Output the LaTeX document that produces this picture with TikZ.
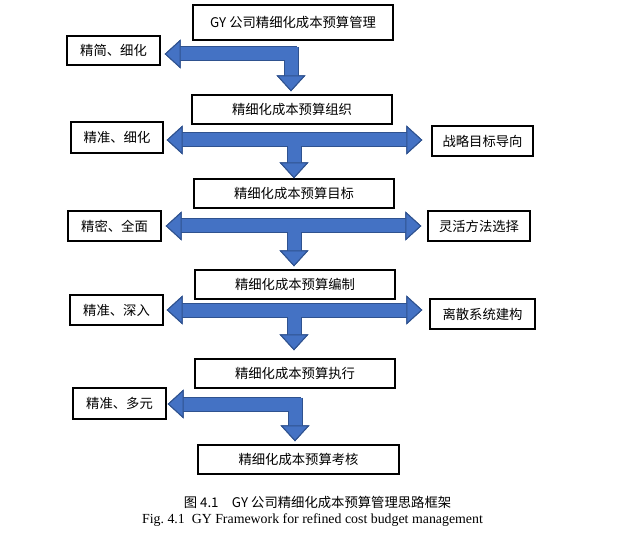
\documentclass[tikz,border=0pt]{standalone}
\usepackage{fontspec}
\setmainfont{Liberation Serif}
\newfontfamily\cjk{Noto Sans CJK SC}
\usetikzlibrary{arrows.meta}

\definecolor{barblue}{RGB}{68,114,196}
\definecolor{bardark}{RGB}{47,82,143}

\tikzset{every picture/.style={line width=0.75pt}}
\tikzset{
  box/.style={draw, line width=1pt, inner sep=0pt, minimum height=21.75pt, font=\cjk\fontsize{10}{12}\selectfont},
  rim/.style={draw=bardark, line width=11.25pt},
  core/.style={draw=barblue, line width=9.75pt},
  Bhead/.tip={Triangle[width=21.75pt, length=12pt, line width=0.75pt, color=bardark, fill=barblue]},
}

\begin{document}
\begin{tikzpicture}[x=0.75pt,y=0.75pt,yscale=-1,xscale=1]
\useasboundingbox (0,0) rectangle (635,545);

% Main steps
\node[box, minimum width=150pt, minimum height=26.25pt] (b1) at (293,22.5) {GY 公司精细化成本预算管理};
\node[box, minimum width=150pt] (b2) at (292,109.5) {精细化成本预算组织};
\node[box, minimum width=150pt] (b3) at (294,193.5) {精细化成本预算目标};
\node[box, minimum width=150pt] (b4) at (295,284.5) {精细化成本预算编制};
\node[box, minimum width=150pt] (b5) at (295,373.5) {精细化成本预算执行};
\node[box, minimum width=150.75pt] (b6) at (298.5,459.5) {精细化成本预算考核};

% Left side boxes
\node[box, minimum width=69.75pt] (l1) at (113.5,50.5) {精简、细化};
\node[box, minimum width=69pt, minimum height=23.25pt] (l2) at (117,137.5) {精准、细化};
\node[box, minimum width=69.75pt, minimum height=22.5pt] (l3) at (114.5,226) {精密、全面};
\node[box, minimum width=69.75pt, minimum height=22.5pt] (l4) at (116.5,310) {精准、深入};
\node[box, minimum width=69.75pt, minimum height=23.25pt] (l5) at (119.5,403.5) {精准、多元};

% Right side boxes
\node[box, minimum width=75.75pt, minimum height=22.5pt] (r2) at (482.5,141) {战略目标导向};
\node[box, minimum width=76.5pt, minimum height=22.5pt] (r3) at (479,226) {灵活方法选择};
\node[box, minimum width=78.75pt, minimum height=22.5pt] (r4) at (482.5,314) {离散系统建构};

% Arrow junctions
\coordinate (c1) at (297,54);
\coordinate (s1) at (291,47.5);
\coordinate (j2) at (294,140);
\coordinate (j3) at (294,226);
\coordinate (j4) at (294,310);
\coordinate (c5) at (301,404);
\coordinate (s5) at (295,397.5);

% Block arrows: border pass, then fill pass
\foreach \pass in {1,2}{
  \ifnum\pass=1 \tikzset{blk/.style={rim}}\else\tikzset{blk/.style={core}}\fi
  \draw[blk, -Bhead, shorten >=3pt] (c1) -- (l1.east |- c1);
  \draw[blk, -Bhead, shorten >=2.25pt] (s1) -- (s1 |- b2.north);
  \draw[blk, Bhead-Bhead, shorten <=2.25pt, shorten >=6.75pt] (l2.east |- j2) -- (r2.west |- j2);
  \draw[blk, -Bhead] (j2) -- (j2 |- b3.north);
  \draw[blk, Bhead-Bhead, shorten <=3pt, shorten >=4.5pt] (l3.east |- j3) -- (r3.west |- j3);
  \draw[blk, -Bhead, shorten >=2.25pt] (j3) -- (j3 |- b4.north);
  \draw[blk, Bhead-Bhead, shorten <=2.25pt, shorten >=5.25pt] (l4.east |- j4) -- (r4.west |- j4);
  \draw[blk, -Bhead, shorten >=6pt] (j4) -- (j4 |- b5.north);
  \draw[blk, -Bhead, shorten >=0.75pt] (c5) -- (l5.east |- c5);
  \draw[blk, -Bhead, shorten >=2.25pt] (s5) -- (s5 |- b6.north);
}

% Caption
\node[font=\cjk\fontsize{10}{12}\selectfont] (cap1) at (317.5,502) {图 4.1\quad GY 公司精细化成本预算管理思路框架};
\node[font=\fontsize{10.4}{12}\selectfont] (cap2) at (312.5,520) {Fig.~4.1\enspace GY Framework for refined cost budget management};

\end{tikzpicture}
\end{document}
